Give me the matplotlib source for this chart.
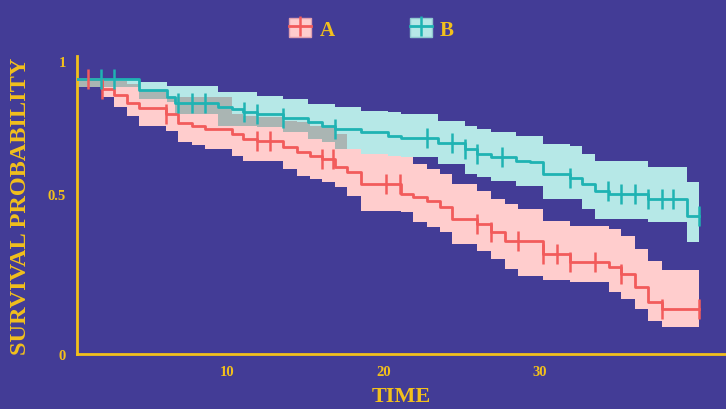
import numpy as np
import matplotlib
matplotlib.use("Agg")
import matplotlib.pyplot as plt
from matplotlib.patches import Patch
from matplotlib.lines import Line2D

plt.rcParams['font.family'] = ['Liberation Serif', 'DejaVu Serif']
plt.rcParams['font.weight'] = 'bold'

# group A (red)
time_a = [0.0, 2.0, 2.8, 3.6, 4.4, 6.1, 6.9, 7.8, 8.6, 10.3, 11.0, 11.9, 13.6,
          14.5, 15.3, 16.1, 16.9, 17.7, 18.6, 21.1, 21.9, 22.8, 23.6, 24.4,
          26.0, 26.9, 27.8, 28.6, 30.2, 31.9, 34.4, 35.2, 36.1, 36.9, 37.8]
surv_a = [1.000, 0.964, 0.942, 0.913, 0.895, 0.873, 0.840, 0.829, 0.818, 0.800,
          0.782, 0.775, 0.753, 0.735, 0.720, 0.709, 0.680, 0.662, 0.618, 0.582,
          0.571, 0.556, 0.535, 0.491, 0.473, 0.444, 0.411, 0.411, 0.364, 0.335,
          0.316, 0.291, 0.244, 0.189, 0.164]
upper_a = [1.000, 0.993, 0.993, 0.982, 0.956, 0.935, 0.935, 0.935, 0.935, 0.873,
           0.865, 0.862, 0.847, 0.844, 0.829, 0.829, 0.800, 0.800, 0.727, 0.716,
           0.691, 0.673, 0.655, 0.618, 0.593, 0.564, 0.545, 0.527, 0.484, 0.465,
           0.455, 0.429, 0.382, 0.338, 0.305]
lower_a = [0.971, 0.935, 0.898, 0.865, 0.829, 0.811, 0.771, 0.760, 0.745, 0.720,
           0.702, 0.702, 0.673, 0.647, 0.636, 0.625, 0.607, 0.575, 0.520, 0.516,
           0.480, 0.462, 0.444, 0.400, 0.375, 0.345, 0.309, 0.284, 0.269, 0.262,
           0.225, 0.200, 0.164, 0.120, 0.098]
cens_a = [1.1, 2.0, 6.1, 11.9, 12.75, 16.1, 16.8, 20.2, 21.05, 26.0, 26.9, 28.6,
          30.2, 31.1, 31.9, 33.5, 35.2, 37.8, 40.2]

# group B (teal)
time_b = [0.0, 4.4, 6.2, 6.7, 9.4, 10.3, 11.0, 11.9, 13.6, 15.2, 16.1, 16.9,
          18.6, 20.3, 21.1, 23.5, 25.2, 26.0, 26.9, 28.5, 29.4, 30.2, 31.9,
          32.7, 33.5, 34.4, 36.9, 39.4]
surv_b = [1.000, 0.960, 0.935, 0.913, 0.898, 0.891, 0.880, 0.873, 0.858, 0.844,
          0.829, 0.818, 0.807, 0.793, 0.785, 0.767, 0.745, 0.727, 0.716, 0.702,
          0.698, 0.655, 0.640, 0.618, 0.593, 0.582, 0.564, 0.502]
upper_b = [1.000, 0.989, 0.975, 0.975, 0.953, 0.953, 0.953, 0.938, 0.927, 0.909,
           0.909, 0.898, 0.884, 0.880, 0.873, 0.847, 0.829, 0.818, 0.807, 0.793,
           0.793, 0.764, 0.756, 0.727, 0.702, 0.702, 0.680, 0.625]
lower_b = [0.971, 0.927, 0.916, 0.873, 0.829, 0.829, 0.829, 0.825, 0.807, 0.782,
           0.771, 0.745, 0.727, 0.720, 0.716, 0.691, 0.655, 0.644, 0.629, 0.611,
           0.611, 0.564, 0.564, 0.527, 0.491, 0.491, 0.480, 0.407]
cens_b = [1.95, 2.8, 6.9, 7.8, 8.6, 11.1, 11.9, 13.6, 16.9, 22.8, 24.4, 25.2,
          26.0, 27.6, 31.9, 34.35, 35.2, 36.1, 36.9, 37.8, 38.5, 40.2]

t_end = 40.2
x_ticks = [10, 20, 30]
y_ticks = [0, 0.582, 1.065]
y_labels = ['0', '0.5', '1']

bg = '#433c96'
gold = '#f2c01c'
red, red_fill = '#f25b5b', '#ffcdcd'
teal, teal_fill = '#1fb3b3', '#b6e8e7'
grey_fill = '#aab5b3'


def ext(t, v):
    return np.append(t, t_end), np.append(v, v[-1])


def step_at(t, v, x):
    idx = np.searchsorted(t, x, side='right') - 1
    return np.asarray(v)[idx]


fig = plt.figure(figsize=(7.26, 4.10), dpi=100, facecolor=bg)
ax = fig.add_axes([77/726, 55/410, 649/726, 298/410])
ax.set_facecolor(bg)

ta, tb = np.array(time_a), np.array(time_b)

x, lo = ext(ta, lower_a)
_, up = ext(ta, upper_a)
ax.fill_between(x, lo, up, step='post', color=red_fill, lw=0, zorder=1)
x, lo = ext(tb, lower_b)
_, up = ext(tb, upper_b)
ax.fill_between(x, lo, up, step='post', color=teal_fill, lw=0, zorder=1)

# overlap of both bands
grid = np.union1d(ta, tb)
hi = np.minimum(step_at(ta, upper_a, grid), step_at(tb, upper_b, grid))
lw_ = np.maximum(step_at(ta, lower_a, grid), step_at(tb, lower_b, grid))
gx, ghi = ext(grid, hi)
_, glo = ext(grid, lw_)
ax.fill_between(gx, glo, ghi, where=ghi > glo, step='post', color=grey_fill,
                lw=0, zorder=2, interpolate=False)

for t, s, c, cens in [(ta, surv_a, red, cens_a), (tb, surv_b, teal, cens_b)]:
    x, y = ext(t, s)
    ax.step(x, y, where='post', color=c, lw=2, zorder=3)
    cy = step_at(t, s, np.array(cens))
    ax.plot(cens, cy, ls='none', marker='|', markersize=15, mew=1.8,
            color=c, zorder=4)

ax.set_xlim(0.42, 41.9)
ax.set_ylim(0, 1.084)
for side in ['top', 'right']:
    ax.spines[side].set_visible(False)
for side in ['left', 'bottom']:
    ax.spines[side].set_color(gold)
    ax.spines[side].set_linewidth(2)

ax.set_xticks(x_ticks)
ax.set_yticks(y_ticks)
ax.set_yticklabels(y_labels)
ax.tick_params(length=0, colors=gold, labelsize=10.5, pad=8)

ax.set_xlabel('TIME', color=gold, fontsize=16, fontweight='bold', labelpad=6)
ax.set_ylabel('SURVIVAL PROBABILITY', color=gold, fontsize=17.5,
              fontweight='bold', labelpad=12)

handles = [(Patch(facecolor=red_fill, edgecolor='#e0a0b0'),
            Line2D([], [], color=red, lw=2, marker='|', markersize=15, mew=1.8)),
           (Patch(facecolor=teal_fill, edgecolor='#90c8d0'),
            Line2D([], [], color=teal, lw=2, marker='|', markersize=15, mew=1.8))]
leg = fig.legend(handles, ['A', 'B'], loc='center', ncol=2,
                 bbox_to_anchor=(0.512, 0.927), frameon=False,
                 handlelength=1.05, handleheight=1.05, columnspacing=3.6,
                 handletextpad=0.4, prop={'size': 15, 'weight': 'bold'})
for txt in leg.get_texts():
    txt.set_color(gold)

fig.savefig('out.png', dpi=100, facecolor=bg)
